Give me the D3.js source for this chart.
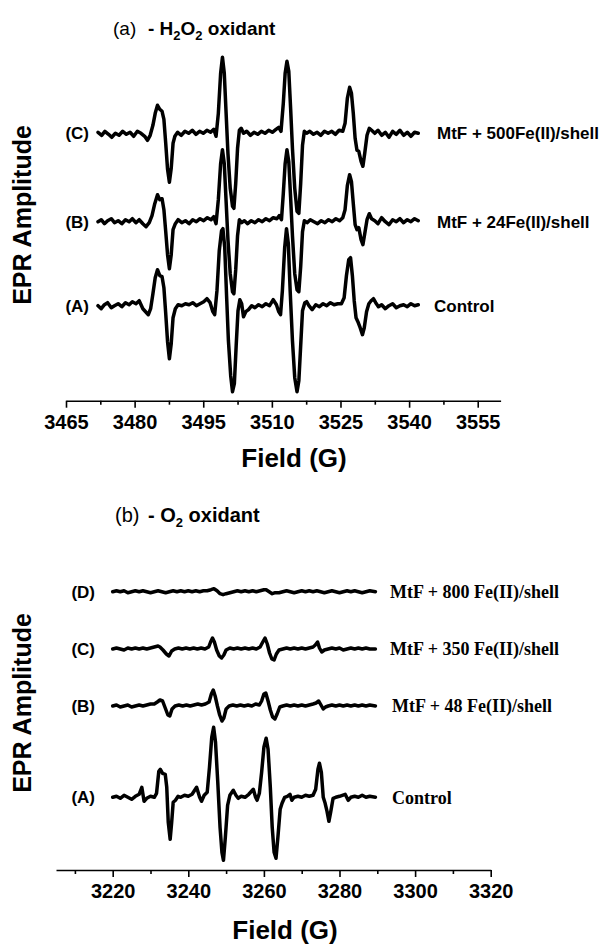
<!DOCTYPE html>
<html>
<head>
<meta charset="utf-8">
<script src="https://cdn.jsdelivr.net/npm/d3@7"></script>
<style>
  body { margin: 0; background: #fff; }
  svg { display: block; }
</style>
</head>
<body>
<script>
// ---- panel (a): H2O2 oxidant, [field (G), amplitude (a.u.)] ----
const h2o2_A = [
  [3472.0,0],[3472.7,-3],[3473.4,1],[3474.1,3],[3474.9,-2],[3475.6,0],[3476.4,2],[3477.2,-1],
  [3478.0,3],[3478.8,1],[3479.5,4],[3480.3,2],[3481.0,5],[3481.8,-3],[3482.4,-6],[3483.0,-9],
  [3483.5,-3],[3484.0,12],[3484.5,28],[3485.0,36],[3485.5,30],[3486.0,29],[3486.4,18],[3486.8,-8],
  [3487.2,-36],[3487.6,-53],[3488.0,-38],[3488.4,-12],[3488.9,-3],[3489.5,1],[3490.3,0],[3491.1,2],
  [3491.9,1],[3492.7,3],[3493.5,0],[3494.3,2],[3495.1,4],[3495.8,7],[3496.5,3],[3497.1,-6],
  [3497.5,-9],[3498.0,15],[3498.5,55],[3499.0,75],[3499.3,77],[3499.7,58],[3500.1,10],[3500.5,-35],
  [3501.0,-70],[3501.4,-86],[3501.8,-78],[3502.2,-40],[3502.6,-5],[3503.0,6],[3503.4,2],[3503.8,-11],
  [3504.3,-6],[3504.9,-4],[3505.6,0],[3506.3,-2],[3507.1,1],[3507.9,-1],[3508.7,2],[3509.5,0],
  [3510.3,6],[3511.0,1],[3511.5,-6],[3511.9,-9],[3512.3,15],[3512.8,58],[3513.2,77],[3513.6,62],
  [3514.0,15],[3514.5,-35],[3515.0,-72],[3515.5,-86],[3515.9,-75],[3516.3,-40],[3516.7,-5],[3517.2,3],
  [3517.6,4],[3518.1,0],[3518.8,-4],[3519.6,1],[3520.4,-1],[3521.2,2],[3522.0,0],[3522.8,3],
  [3523.6,1],[3524.4,2],[3525.2,2],[3525.8,8],[3526.3,30],[3526.8,46],[3527.2,48],[3527.6,30],
  [3528.0,5],[3528.4,-12],[3528.8,-16],[3529.3,-22],[3529.8,-29],[3530.2,-22],[3530.7,-6],[3531.2,2],
  [3531.7,5],[3532.2,7],[3532.7,3],[3533.3,-1],[3534.0,1],[3534.8,-3],[3535.6,0],[3536.4,2],
  [3537.2,-2],[3538.0,0],[3538.8,1],[3539.6,-1],[3540.4,2],[3541.2,0],[3542.0,1]
];
const h2o2_B = [
  [3472.0,0],[3472.7,2],[3473.4,-2],[3474.1,1],[3474.9,3],[3475.6,-1],[3476.4,1],[3477.2,-2],
  [3478.0,2],[3478.8,0],[3479.5,3],[3480.3,-1],[3481.0,2],[3481.8,-2],[3482.5,-5],[3483.2,-1],
  [3483.8,6],[3484.4,18],[3485.0,27],[3485.5,22],[3486.0,23],[3486.4,12],[3486.8,-10],[3487.2,-33],
  [3487.6,-47],[3488.0,-33],[3488.4,-8],[3488.9,-2],[3489.5,2],[3490.3,-1],[3491.1,1],[3491.9,-2],
  [3492.7,2],[3493.5,0],[3494.3,3],[3495.1,1],[3495.9,4],[3496.7,2],[3497.3,5],[3497.8,-2],
  [3498.3,22],[3498.8,58],[3499.2,72],[3499.6,58],[3500.0,20],[3500.4,-18],[3500.9,-52],[3501.4,-70],
  [3501.7,-72],[3502.1,-48],[3502.5,-14],[3502.9,2],[3503.4,-1],[3504.0,1],[3504.7,-2],[3505.5,1],
  [3506.3,-1],[3507.1,2],[3507.9,0],[3508.7,3],[3509.5,1],[3510.3,4],[3511.1,3],[3511.6,6],
  [3512.1,2],[3512.5,28],[3512.9,58],[3513.3,72],[3513.7,60],[3514.1,24],[3514.5,-14],[3515.0,-52],
  [3515.5,-68],[3515.9,-70],[3516.3,-45],[3516.7,-10],[3517.1,1],[3517.7,-1],[3518.4,2],[3519.2,0],
  [3520.0,-2],[3520.8,1],[3521.6,-1],[3522.4,2],[3523.2,0],[3524.0,3],[3524.8,1],[3525.5,4],
  [3526.0,12],[3526.5,36],[3527.0,47],[3527.4,40],[3527.8,18],[3528.2,-3],[3528.6,-8],[3529.0,-6],
  [3529.5,-18],[3529.9,-23],[3530.3,-12],[3530.8,2],[3531.3,8],[3531.8,3],[3532.5,1],[3533.2,-2],
  [3534.0,4],[3534.8,0],[3535.6,-3],[3536.4,2],[3537.2,0],[3538.0,3],[3538.8,-1],[3539.6,2],
  [3540.4,0],[3541.2,3],[3542.0,1]
];
const h2o2_C = [
  [3472.0,1],[3472.8,-2],[3473.5,2],[3474.3,-1],[3475.0,-4],[3475.8,0],[3476.6,-2],[3477.4,2],
  [3478.2,-1],[3479.0,1],[3479.8,-3],[3480.6,2],[3481.4,0],[3482.2,-3],[3482.8,-7],[3483.4,-2],
  [3484.0,8],[3484.5,20],[3485.0,28],[3485.5,24],[3486.0,22],[3486.4,14],[3486.8,-10],[3487.2,-36],
  [3487.6,-49],[3488.0,-35],[3488.4,-10],[3488.8,-3],[3489.4,1],[3490.2,-2],[3491.0,2],[3491.8,0],
  [3492.6,3],[3493.4,-1],[3494.2,2],[3495.0,0],[3495.8,3],[3496.6,1],[3497.3,4],[3497.8,-3],
  [3498.3,20],[3498.8,60],[3499.2,76],[3499.6,60],[3500.0,20],[3500.4,-20],[3500.9,-55],[3501.4,-73],
  [3501.7,-75],[3502.1,-50],[3502.5,-15],[3502.9,3],[3503.3,5],[3503.8,0],[3504.5,2],[3505.3,-2],
  [3506.1,1],[3506.9,-1],[3507.7,2],[3508.5,0],[3509.3,3],[3510.1,1],[3510.9,4],[3511.5,6],
  [3512.0,2],[3512.5,30],[3512.9,60],[3513.3,72],[3513.7,62],[3514.1,25],[3514.5,-15],[3515.0,-55],
  [3515.5,-78],[3515.9,-80],[3516.3,-50],[3516.7,-12],[3517.1,2],[3517.6,0],[3518.3,2],[3519.1,-1],
  [3519.9,1],[3520.7,-2],[3521.5,2],[3522.3,0],[3523.1,2],[3523.9,-1],[3524.7,3],[3525.5,2],
  [3526.0,10],[3526.5,35],[3527.0,46],[3527.4,40],[3527.8,20],[3528.2,-5],[3528.6,-17],[3529.0,-18],
  [3529.5,-28],[3529.9,-33],[3530.3,-20],[3530.8,-2],[3531.3,5],[3531.8,3],[3532.5,0],[3533.2,3],
  [3534.0,-2],[3534.8,1],[3535.6,-4],[3536.4,2],[3537.2,-1],[3538.0,3],[3538.8,-2],[3539.6,1],
  [3540.4,-3],[3541.2,1],[3542.0,0]
];
const h2o2Offsets = [0, 84, 172.4];
const h2o2Left = ["(A)", "(B)", "(C)"];
const h2o2Right = ["Control", "MtF + 24Fe(II)/shell", "MtF + 500Fe(II)/shell"];
const h2o2Major = [3465, 3480, 3495, 3510, 3525, 3540, 3555];
const h2o2Minor = [3472.5, 3487.5, 3502.5, 3517.5, 3532.5, 3547.5];

// ---- panel (b): O2 oxidant ----
const o2_A = [
  [3220,0],[3221,1],[3222,-1],[3223,2],[3224,0],[3225,-2],[3226,1],[3227,3],[3227.7,10],[3228.3,-4],
  [3229,-1],[3230,1],[3231,0],[3231.6,4],[3232.2,26],[3232.6,28],[3233.2,24],[3233.9,23],[3234.3,10],
  [3234.7,-25],[3235.2,-42],[3235.6,-25],[3236.0,-5],[3236.6,-3],[3237.3,1],[3238,0],[3239,2],
  [3240,1],[3241,3],[3242.2,10],[3243.0,0],[3243.5,-4],[3244.2,2],[3245.0,5],[3245.6,30],[3246.2,60],
  [3246.7,70],[3247.2,55],[3247.8,15],[3248.4,-30],[3248.9,-55],[3249.3,-63],[3249.8,-40],[3250.4,-8],
  [3251.0,2],[3251.9,7],[3252.6,2],[3253.2,-1],[3254,1],[3255,0],[3256,3],[3257.2,8],[3257.8,0],
  [3258.2,-3],[3258.8,4],[3259.4,25],[3260.0,50],[3260.6,59],[3261.1,48],[3261.7,10],[3262.2,-30],
  [3262.7,-55],[3263.2,-61],[3263.7,-40],[3264.3,-12],[3264.8,-6],[3265.5,0],[3266.2,1],[3266.9,3],
  [3267.4,-3],[3268,0],[3269,1],[3270,0],[3271,2],[3272,1],[3273,2],[3273.7,8],[3274.3,28],
  [3274.7,34],[3275.2,25],[3275.7,0],[3276.2,-6],[3276.7,-14],[3277.2,-24],[3277.7,-14],[3278.3,-1],
  [3279,0],[3280,1],[3281.5,3],[3282.3,-3],[3283,0],[3284,1],[3285,0],[3286,2],[3287,0],[3288,1],
  [3289.5,0]
];
const o2_B = [
  [3220,0],[3221,1],[3222,-1],[3223,0],[3224,1],[3225,-1],[3226,0],[3227,1],[3228,0],[3229,1],
  [3230,2],[3231,2],[3231.8,4],[3232.5,6],[3233.2,5],[3233.9,-2],[3234.6,-9],[3235.1,-10],[3235.7,-3],
  [3236.5,0],[3237.5,1],[3238.5,0],[3239.5,1],[3240.5,0],[3241.5,1],[3242.5,2],[3243.5,1],[3244.5,2],
  [3245.5,4],[3246.1,12],[3246.6,16],[3247.1,10],[3247.7,0],[3248.3,-9],[3248.9,-15],[3249.4,-12],
  [3250.0,-3],[3250.8,0],[3251.8,1],[3252.8,0],[3253.8,1],[3254.8,0],[3255.8,1],[3256.8,0],[3257.8,2],
  [3258.8,1],[3259.4,5],[3260.0,12],[3260.5,13],[3261.1,5],[3261.7,-4],[3262.3,-11],[3262.9,-13],
  [3263.5,-8],[3264.2,-1],[3265,0],[3266,1],[3267,0],[3268,1],[3269,0],[3270,1],[3271,0],[3272,1],
  [3273,2],[3273.8,3],[3274.5,5],[3275.1,1],[3275.7,-3],[3276.3,-1],[3277,0],[3278,1],[3279,0],
  [3280,1],[3281,0],[3282,1],[3283,0],[3284,1],[3285,0],[3286,1],[3287,0],[3288,1],[3289.5,0]
];
const o2_C = [
  [3220,0],[3221,1],[3222,0],[3223,-1],[3224,1],[3225,0],[3226,1],[3227,0],[3228,1],[3229,0],
  [3230,1],[3231,2],[3232.0,3],[3232.5,2],[3233.3,-1],[3234.2,-5],[3234.9,-7],[3235.6,-2],[3236.4,0],
  [3237.4,1],[3238.4,0],[3239.4,1],[3240.4,0],[3241.4,1],[3242.4,0],[3243.4,1],[3244.4,0],[3245.4,2],
  [3245.9,7],[3246.4,11],[3246.9,7],[3247.5,-1],[3248.2,-7],[3248.8,-9],[3249.4,-6],[3250.0,-1],
  [3251,1],[3252,0],[3253,1],[3254,0],[3255,1],[3256,0],[3257,1],[3258,0],[3259.0,2],[3259.7,7],
  [3260.3,11],[3260.9,5],[3261.5,-4],[3262.1,-10],[3262.7,-11],[3263.3,-5],[3264.0,-1],[3265,0],
  [3266,1],[3267,0],[3268,1],[3269,0],[3270,1],[3271,0],[3272,1],[3273.0,2],[3273.6,4],[3274.2,7],
  [3274.7,1],[3275.3,-3],[3276.0,-1],[3277,0],[3278,1],[3279,0],[3280,1],[3281,-1],[3282,0],[3283,1],
  [3284,0],[3285,1],[3286,0],[3287,1],[3288,0],[3289.5,0]
];
const o2_D = [
  [3220,0],[3221,1],[3222,0],[3223,1],[3224,-1],[3225,0],[3226,1],[3227,0],[3228,1],[3229,0],
  [3230,-1],[3231,0],[3232,1],[3233,0],[3234,-1],[3235,0],[3236,1],[3237,0],[3238,1],[3239,0],
  [3240,1],[3241,0],[3242,1],[3243,0],[3244,1],[3245,1],[3246,2],[3246.8,3],[3247.6,1],[3248.4,-2],
  [3249.2,-3],[3250,-2],[3251,-1],[3252,0],[3253,1],[3254,0],[3255,1],[3256,0],[3257,1],[3258,0],
  [3259,1],[3260,2],[3260.6,2],[3261.4,0],[3262.2,-2],[3263,-1],[3264,-1],[3265,0],[3266,1],[3267,0],
  [3268,-1],[3269,0],[3270,1],[3271,0],[3272,1],[3273,0],[3274,1],[3275,0],[3276,-1],[3277,0],
  [3278,1],[3279,0],[3280,-1],[3281,0],[3282,1],[3283,0],[3284,1],[3285,0],[3286,-1],[3287,0],
  [3288,1],[3289.5,0]
];
const o2Offsets = [0, 91.3, 148.3, 205.6];
const o2Left = ["(A)", "(B)", "(C)", "(D)"];
const o2Right = ["Control", "MtF + 48 Fe(II)/shell", "MtF + 350 Fe(II)/shell", "MtF + 800 Fe(II)/shell"];
const o2Major = [3220, 3240, 3260, 3280, 3300, 3320];
const o2Minor = [3210, 3230, 3250, 3270, 3290, 3310];

const sans = "'Liberation Sans', Arial, Helvetica, sans-serif";
const serif = "'Liberation Serif', 'Times New Roman', serif";

let svg = d3.select("body").append("svg")
    .attr("width", 605)
    .attr("height", 945);

function drawPanel(p) {
    let g = svg.append("g");

    let xScale = d3.scaleLinear().domain(p.xDomain).range(p.xRange);
    let yScale = d3.scaleLinear().domain(p.yDomain).range(p.yRange);
    let axisY = p.yRange[0];

    // major ticks with labels
    let xAxis = d3.axisBottom(xScale)
        .tickValues(p.major)
        .tickSize(7)
        .tickSizeOuter(0)
        .tickPadding(7)
        .tickFormat(d3.format("d"));
    let ax = g.append("g")
        .attr("transform", `translate(0, ${axisY})`)
        .call(xAxis);
    ax.select(".domain").attr("stroke-width", 1.6);
    ax.selectAll(".tick line").attr("stroke-width", 1.6);
    ax.selectAll(".tick text")
        .attr("font-family", sans)
        .attr("font-weight", "bold")
        .attr("font-size", "20px")
        .attr("fill", "#000");

    // minor ticks
    let minorAx = g.append("g")
        .attr("transform", `translate(0, ${axisY})`)
        .call(d3.axisBottom(xScale).tickValues(p.minor).tickSize(4).tickFormat(""));
    minorAx.select(".domain").remove();
    minorAx.selectAll(".tick line").attr("stroke-width", 1.6);

    // x axis title
    g.append("text")
        .attr("x", p.xTitle[0])
        .attr("y", p.xTitle[1])
        .attr("text-anchor", "middle")
        .attr("font-family", sans)
        .attr("font-weight", "bold")
        .attr("font-size", "26px")
        .text("Field (G)");

    // y axis title
    g.append("text")
        .attr("transform", `translate(${p.yTitle[0]}, ${p.yTitle[1]}) rotate(-90)`)
        .attr("text-anchor", "middle")
        .attr("font-family", sans)
        .attr("font-weight", "bold")
        .attr("font-size", "25px")
        .text("EPR Amplitude");

    // traces
    p.traces.forEach((trace, i) => {
        let line = d3.line()
            .x((d) => xScale(d[0]))
            .y((d) => yScale(d[1] + p.offsets[i]));
        g.append("path")
            .datum(trace)
            .attr("d", line)
            .attr("fill", "none")
            .attr("stroke", "#000")
            .attr("stroke-width", 3.5)
            .attr("stroke-linejoin", "round")
            .attr("stroke-linecap", "round");
    });

    // left labels
    g.selectAll(".lbl-left")
        .data(p.left)
        .join("text")
        .attr("class", "lbl-left")
        .attr("x", p.leftX)
        .attr("y", (d, i) => yScale(p.offsets[i]))
        .attr("dy", "0.36em")
        .attr("text-anchor", "end")
        .attr("font-family", sans)
        .attr("font-weight", "bold")
        .attr("font-size", "17px")
        .text((d) => d);

    // right labels
    g.selectAll(".lbl-right")
        .data(p.right)
        .join("text")
        .attr("class", "lbl-right")
        .attr("x", (d, i) => p.rightX[i])
        .attr("y", (d, i) => yScale(p.offsets[i]))
        .attr("dy", "0.36em")
        .attr("font-family", p.rightFont)
        .attr("font-weight", "bold")
        .attr("font-size", p.rightSize)
        .text((d) => d);
}

drawPanel({
    traces: [h2o2_A, h2o2_B, h2o2_C],
    offsets: h2o2Offsets,
    left: h2o2Left,
    right: h2o2Right,
    major: h2o2Major,
    minor: h2o2Minor,
    xDomain: [3465, 3560],
    xRange: [66, 500.6],
    yDomain: [-95, 250],
    yRange: [400.7, 55.7],
    xTitle: [294, 467],
    yTitle: [31, 215],
    leftX: 89,
    rightX: [434, 437, 437],
    rightFont: sans,
    rightSize: "17px"
});

drawPanel({
    traces: [o2_A, o2_B, o2_C, o2_D],
    offsets: o2Offsets,
    left: o2Left,
    right: o2Right,
    major: o2Major,
    minor: o2Minor,
    xDomain: [3205, 3320],
    xRange: [56, 490.7],
    yDomain: [-72.7, 237.3],
    yRange: [870, 560],
    xTitle: [285, 939],
    yTitle: [31, 703],
    leftX: 95,
    rightX: [392, 392, 390, 390],
    rightFont: serif,
    rightSize: "18px"
});

// panel titles
function title(x, y, tag, parts, size, subSize) {
    svg.append("text")
        .attr("x", x).attr("y", y)
        .attr("font-family", sans)
        .attr("font-size", size)
        .text(tag);
    let t = svg.append("text")
        .attr("x", 148).attr("y", y)
        .attr("font-family", sans)
        .attr("font-weight", "bold")
        .attr("font-size", size);
    parts.forEach((part) => {
        t.append("tspan")
            .attr("font-size", part.sub ? subSize : null)
            .attr("dy", part.sub ? 5 : (part.after ? -5 : 0))
            .text(part.text);
    });
}

title(113, 35, "(a)", [
    {text: "- H"}, {text: "2", sub: true}, {text: "O", after: true},
    {text: "2", sub: true}, {text: " oxidant", after: true}
], "19px", "13px");

title(115, 522, "(b)", [
    {text: "- O"}, {text: "2", sub: true}, {text: " oxidant", after: true}
], "20px", "13px");
</script>
</body>
</html>
